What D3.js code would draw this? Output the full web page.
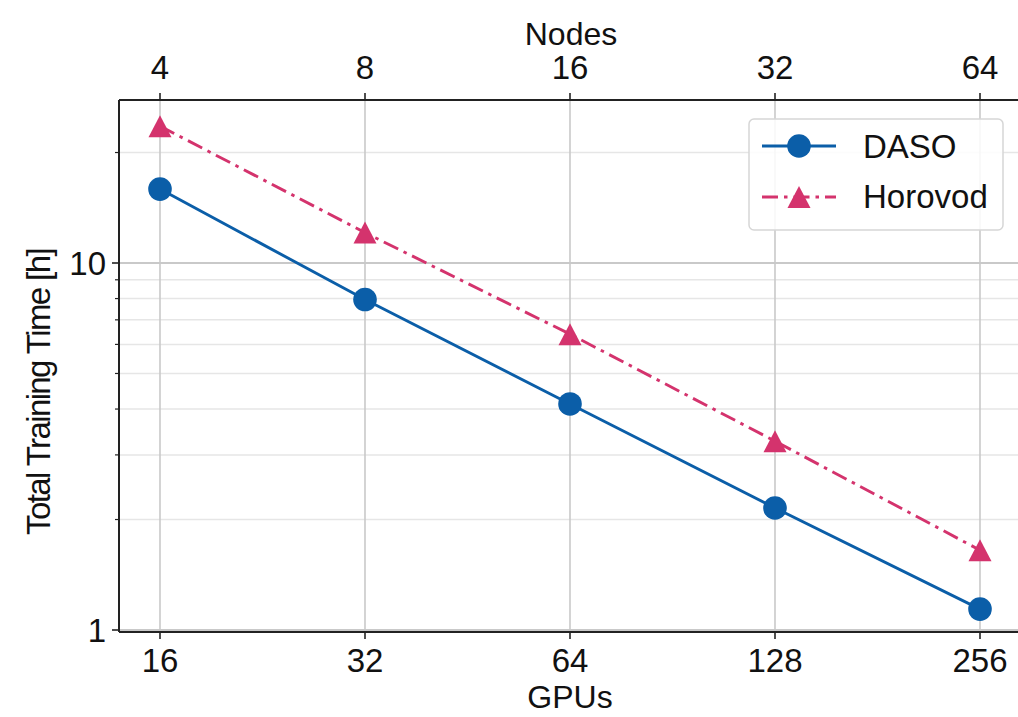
<!DOCTYPE html>
<html>
<head>
<meta charset="utf-8">
<script src="https://cdn.jsdelivr.net/npm/d3@7"></script>
<style>
  body { margin: 0; background: #fff; }
  text { font-family: "Liberation Sans", Arial, sans-serif; fill: #111; }
</style>
</head>
<body>
<svg id="chart" width="1018" height="717" viewBox="0 0 1018 717"></svg>
<script>
// data
const gpus = [16, 32, 64, 128, 256];
const nodes = [4, 8, 16, 32, 64];
const dasoHours = [15.9, 7.95, 4.13, 2.15, 1.14];
const horovodHours = [23.6, 12.1, 6.4, 3.27, 1.65];
const yMajorTicks = [1, 10];
const yMinorTicks = [2, 3, 4, 5, 6, 7, 8, 9, 20];

const svg = d3.select('#chart');

// plot box
const box = { left: 119, right: 1024, top: 100, bottom: 632 };

const x = d3.scaleLog().base(2)
    .domain([16, 256])
    .range([160, 980]);
const y = d3.scaleLog()
    .domain([1, 10])
    .range([630, 263]);

const blue = "#0b5ea8";
const pink = "#d4336d";

const plot = svg.append('g');

// grid
plot.selectAll(".grid-minor")
    .data(yMinorTicks)
    .enter()
    .append("line")
    .attr("x1", box.left).attr("x2", box.right)
    .attr("y1", d => y(d)).attr("y2", d => y(d))
    .attr("stroke", "#e6e6e6")
    .attr("stroke-width", 1.5);

plot.selectAll(".grid-major")
    .data(yMajorTicks)
    .enter()
    .append("line")
    .attr("x1", box.left).attr("x2", box.right)
    .attr("y1", d => y(d)).attr("y2", d => y(d))
    .attr("stroke", "#c9c9c9")
    .attr("stroke-width", 2);

plot.selectAll(".grid-x")
    .data(gpus)
    .enter()
    .append("line")
    .attr("x1", d => x(d)).attr("x2", d => x(d))
    .attr("y1", box.top).attr("y2", box.bottom)
    .attr("stroke", "#c9c9c9")
    .attr("stroke-width", 1.6);

// lines
const line = d3.line()
    .x(d => x(d[0]))
    .y(d => y(d[1]));

const dasoPts = gpus.map((g, i) => [g, dasoHours[i]]);
const horovodPts = gpus.map((g, i) => [g, horovodHours[i]]);

plot.append("path")
    .datum(horovodPts)
    .attr("d", line)
    .attr("fill", "none")
    .attr("stroke", pink)
    .attr("stroke-width", 2.9)
    .attr("stroke-dasharray", "16,6,3.5,6");

plot.append("path")
    .datum(dasoPts)
    .attr("d", line)
    .attr("fill", "none")
    .attr("stroke", blue)
    .attr("stroke-width", 2.9);

const triangle = (cx, cy) => "M" + cx + "," + (cy - 11) + "L" + (cx + 11.5) + "," + (cy + 11) + "L" + (cx - 11.5) + "," + (cy + 11) + "Z";

plot.selectAll(".tri")
    .data(horovodPts)
    .enter()
    .append("path")
    .attr("d", d => triangle(x(d[0]), y(d[1])))
    .attr("fill", pink);

plot.selectAll(".dot")
    .data(dasoPts)
    .enter()
    .append("circle")
    .attr("cx", d => x(d[0]))
    .attr("cy", d => y(d[1]))
    .attr("r", 11.8)
    .attr("fill", blue);

// spines
const spine = svg.append('g').attr("stroke", "#222").attr("stroke-width", 2);
spine.append("line").attr("x1", box.left).attr("x2", box.right).attr("y1", box.top).attr("y2", box.top);
spine.append("line").attr("x1", box.left).attr("x2", box.right).attr("y1", box.bottom).attr("y2", box.bottom);
spine.append("line").attr("x1", box.left).attr("x2", box.left).attr("y1", box.top).attr("y2", box.bottom);

// ticks
const tickG = svg.append('g').attr("stroke", "#222").attr("stroke-width", 1.6);
gpus.forEach(g => {
    tickG.append("line").attr("x1", x(g)).attr("x2", x(g)).attr("y1", box.bottom).attr("y2", box.bottom + 7);
    tickG.append("line").attr("x1", x(g)).attr("x2", x(g)).attr("y1", box.top).attr("y2", box.top - 7);
});
yMajorTicks.forEach(v => {
    tickG.append("line").attr("x1", box.left - 7).attr("x2", box.left).attr("y1", y(v)).attr("y2", y(v));
});
yMinorTicks.forEach(v => {
    tickG.append("line").attr("x1", box.left - 4).attr("x2", box.left).attr("y1", y(v)).attr("y2", y(v))
        .attr("stroke-width", 1.2);
});

// tick labels
const fs = 33;
svg.selectAll(".xlab")
    .data(gpus)
    .enter()
    .append("text")
    .attr("x", d => x(d))
    .attr("y", 672)
    .attr("text-anchor", "middle")
    .style("font-size", fs + "px")
    .text(d => d);

svg.selectAll(".toplab")
    .data(nodes)
    .enter()
    .append("text")
    .attr("x", (d, i) => x(gpus[i]))
    .attr("y", 79)
    .attr("text-anchor", "middle")
    .style("font-size", fs + "px")
    .text(d => d);

svg.selectAll(".ylab")
    .data(yMajorTicks)
    .enter()
    .append("text")
    .attr("x", 106)
    .attr("y", d => y(d) + 12)
    .attr("text-anchor", "end")
    .style("font-size", fs + "px")
    .text(d => d);

// axis titles
svg.append("text")
    .attr("x", 570)
    .attr("y", 708)
    .attr("text-anchor", "middle")
    .style("font-size", "32px")
    .text("GPUs");

svg.append("text")
    .attr("x", 571)
    .attr("y", 45)
    .attr("text-anchor", "middle")
    .style("font-size", "32px")
    .text("Nodes");

svg.append("text")
    .attr("transform", "translate(50," + 392 + ") rotate(-90)")
    .attr("text-anchor", "middle")
    .style("font-size", fs + "px")
    .style("letter-spacing", "-1.6px")
    .text("Total Training Time [h]");

// legend
const lg = svg.append('g');
lg.append("rect")
    .attr("x", 749).attr("y", 119)
    .attr("width", 254).attr("height", 111)
    .attr("rx", 5)
    .attr("fill", "#fff")
    .attr("fill-opacity", 0.85)
    .attr("stroke", "#d6d6d6")
    .attr("stroke-width", 1.5);

lg.append("line")
    .attr("x1", 762).attr("x2", 836).attr("y1", 146).attr("y2", 146)
    .attr("stroke", blue).attr("stroke-width", 2.9);
lg.append("circle").attr("cx", 799).attr("cy", 146).attr("r", 11.8).attr("fill", blue);
lg.append("text").attr("x", 863).attr("y", 158).style("font-size", fs + "px").text("DASO");

lg.append("line")
    .attr("x1", 762).attr("x2", 836).attr("y1", 197).attr("y2", 197)
    .attr("stroke", pink).attr("stroke-width", 2.9)
    .attr("stroke-dasharray", "16,6,3.5,6");
lg.append("path").attr("d", triangle(799, 197)).attr("fill", pink);
lg.append("text").attr("x", 863).attr("y", 208).style("font-size", fs + "px").text("Horovod");
</script>
</body>
</html>
